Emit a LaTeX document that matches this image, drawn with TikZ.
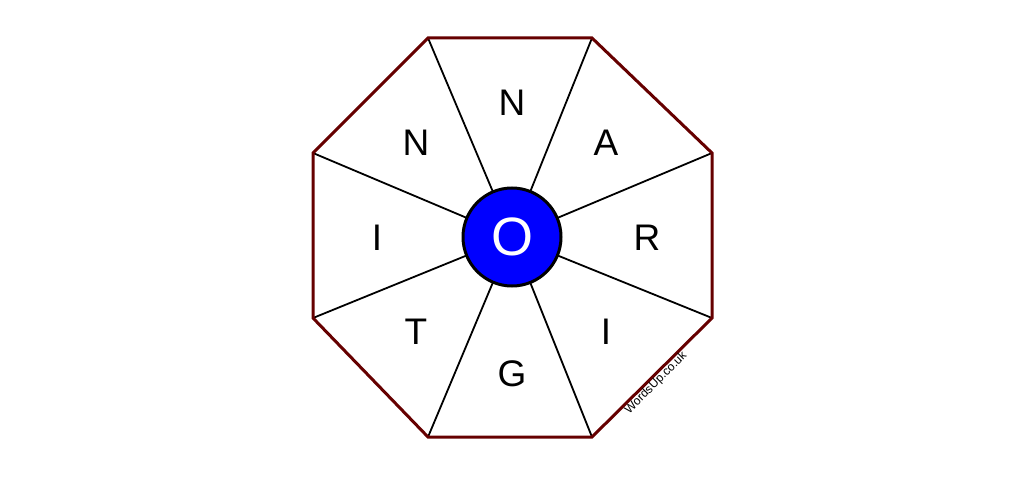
\documentclass[tikz,border=0pt]{standalone}
\usepackage{fontspec}
\setmainfont{Liberation Sans}
\definecolor{octred}{HTML}{660000}
\definecolor{hubblue}{HTML}{0000FF}
\begin{document}
\begin{tikzpicture}[x=1pt,y=-1pt,
  spoke/.style={black,line width=1.8pt},
  rim/.style={octred,line width=3pt,line join=miter},
  letter/.style={font=\fontsize{37}{37}\selectfont,inner sep=0pt},
  hub/.style={circle,draw=black,line width=3pt,fill=hubblue,minimum size=98pt,inner sep=0pt,text=white,font=\fontsize{54}{54}\selectfont}]
\useasboundingbox (0,0) rectangle (1024,476);
\coordinate (v1) at (428,38);
\coordinate (v2) at (592,38);
\coordinate (v3) at (712,153);
\coordinate (v4) at (712,318);
\coordinate (v5) at (592,437);
\coordinate (v6) at (428,437);
\coordinate (v7) at (313,318);
\coordinate (v8) at (313,153);
\coordinate (c) at (512,237);
\foreach \v in {v1,v2,v3,v4,v5,v6,v7,v8}
  \draw[spoke] (c) -- (\v);
\draw[rim] (v1) -- (v2) -- (v3) -- (v4) -- (v5) -- (v6) -- (v7) -- (v8) -- cycle;
\node[hub] (hubnode) at (c) {O};
\node[letter] (l1) at (512,103) {N};
\node[letter] (l2) at (606,143) {A};
\node[letter] (l3) at (647,238) {R};
\node[letter] (l4) at (606,332) {I};
\node[letter] (l5) at (512,374) {G};
\node[letter] (l6) at (416,332) {T};
\node[letter] (l7) at (377,238) {I};
\node[letter] (l8) at (416,143) {N};
\node[rotate=45,font=\fontsize{12}{12}\selectfont,inner sep=0pt] (wm) at (656,383) {WordsUp.co.uk};
\end{tikzpicture}
\end{document}
